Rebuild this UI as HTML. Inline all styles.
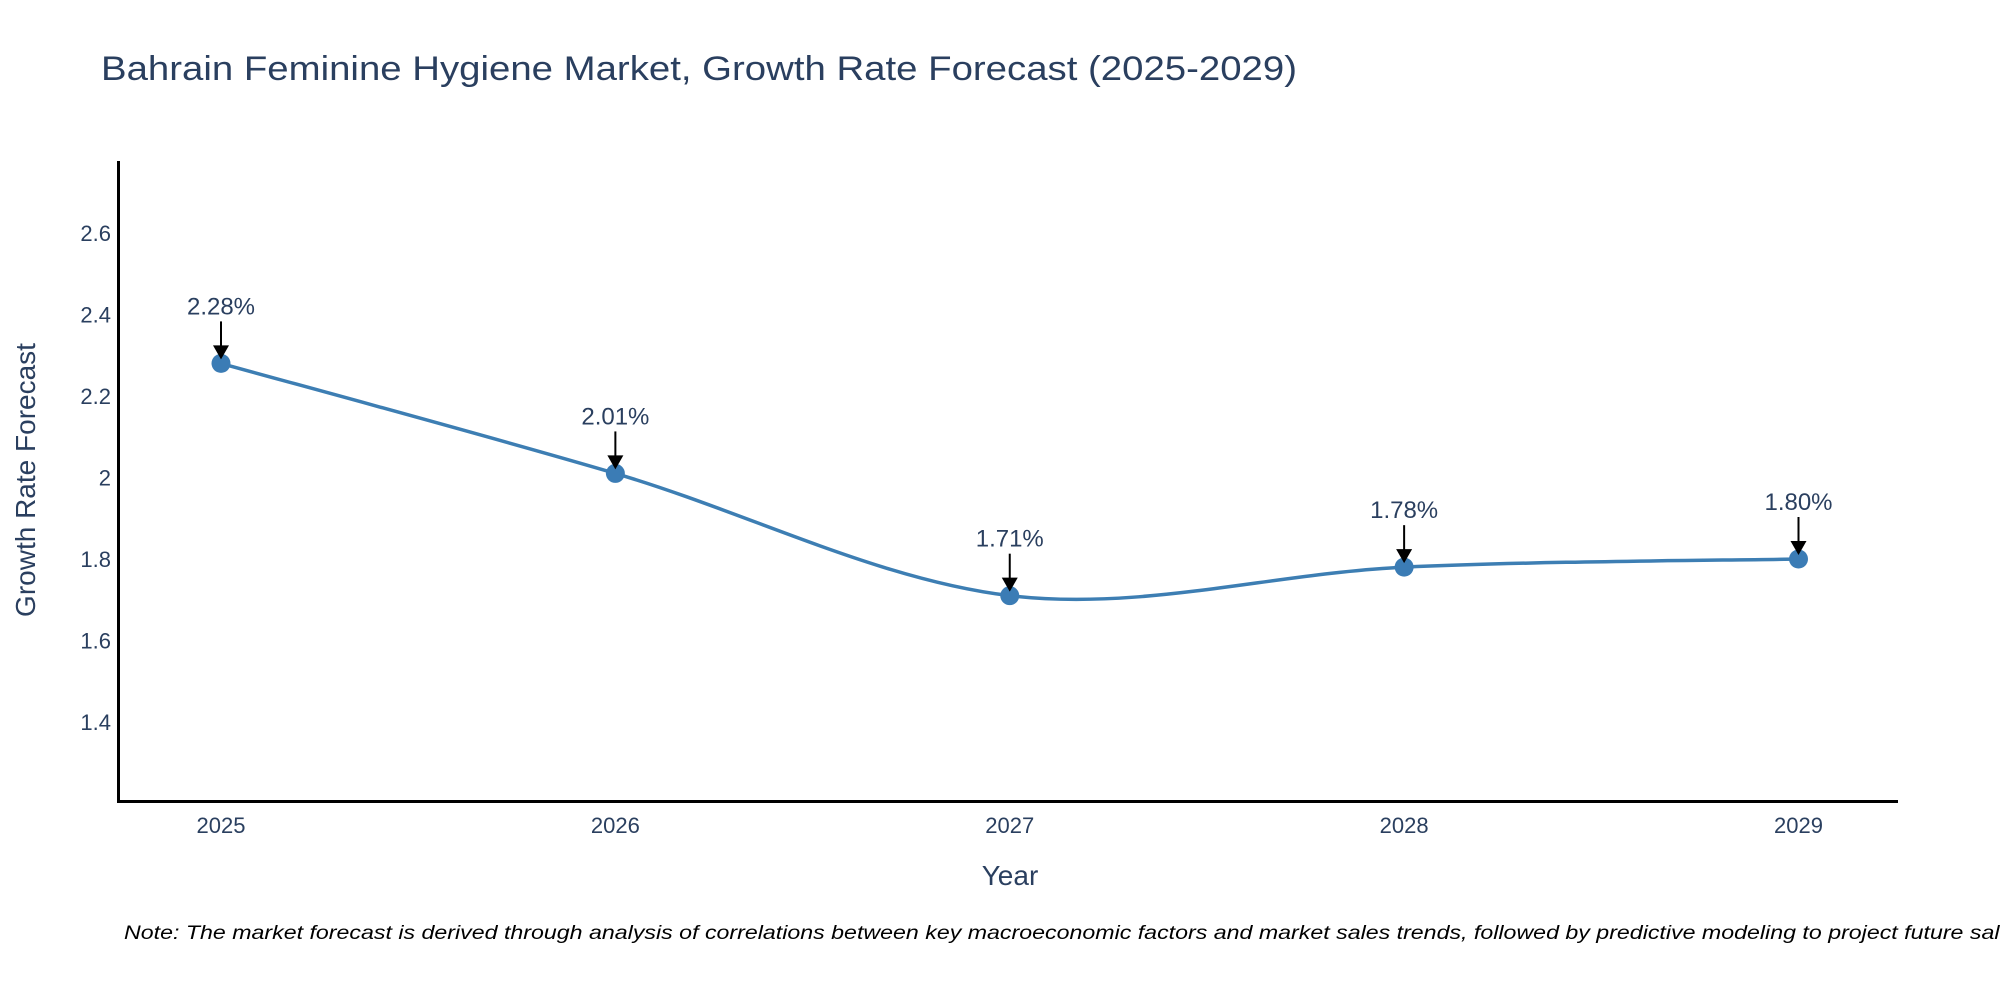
<!DOCTYPE html>
<html><head><meta charset="utf-8"><style>
html,body{margin:0;padding:0;background:#fff;}
svg text{font-family:"Liberation Sans",sans-serif;}
</style></head><body>
<svg id="chart" width="2000" height="1000" viewBox="0 0 2000 1000" xmlns="http://www.w3.org/2000/svg">
<text x="101" y="80" font-size="34" fill="#2a3f5f" textLength="1196" lengthAdjust="spacingAndGlyphs">Bahrain Feminine Hygiene Market, Growth Rate Forecast (2025-2029)</text>
<g id="yticks"></g>
<g id="xticks"></g>
<line x1="118.5" y1="161" x2="118.5" y2="802" stroke="#000" stroke-width="3"/>
<line x1="117" y1="801.5" x2="1898" y2="801.5" stroke="#000" stroke-width="3"/>
<text transform="translate(35,480) rotate(-90)" text-anchor="middle" font-size="28" fill="#2a3f5f">Growth Rate Forecast</text>
<text x="1010" y="885" text-anchor="middle" font-size="28" fill="#2a3f5f">Year</text>
<g id="series"></g>
<g id="annots"></g>
<text x="124" y="939" font-size="19" font-style="italic" fill="#000" textLength="1900" lengthAdjust="spacingAndGlyphs">Note: The market forecast is derived through analysis of correlations between key macroeconomic factors and market sales trends, followed by predictive modeling to project future sales</text>
</svg>
<script>
const years = [2025, 2026, 2027, 2028, 2029];
const values = [2.28, 2.01, 1.71, 1.78, 1.80];
const labels = ["2.28%", "2.01%", "1.71%", "1.78%", "1.80%"];
const yTicks = [1.4, 1.6, 1.8, 2, 2.2, 2.4, 2.6];

const NS = "http://www.w3.org/2000/svg";
function xs(v){ return 221 + (v - 2025) * (1798.5 - 221) / 4; }
function ys(v){ return 233 + (2.6 - v) / 0.2 * 81.5; }
function mk(tag, attrs, parent){ const e=document.createElementNS(NS,tag); for(const k in attrs) e.setAttribute(k,attrs[k]); parent.appendChild(e); return e; }

const yg=document.getElementById('yticks');
yTicks.forEach(t=>{
  const e=mk('text',{x:111,y:ys(t)+8,'text-anchor':'end','font-size':22,fill:'#2a3f5f'},yg);
  
  
  e.textContent=String(t);
});
const xg=document.getElementById('xticks');
years.forEach(y=>{
  const e=mk('text',{x:xs(y),y:833,'text-anchor':'middle','font-size':22,fill:'#2a3f5f'},xg);
  
  
  e.textContent=String(y);
});

const pts=years.map((y,i)=>[xs(y),ys(values[i])]);
let d='M'+pts[0][0]+','+pts[0][1];
const s=0.5;
for(let i=0;i<pts.length-1;i++){
  const p0=pts[Math.max(0,i-1)],p1=pts[i],p2=pts[i+1],p3=pts[Math.min(pts.length-1,i+2)];
  const c1=[p1[0]+(p2[0]-p0[0])*s/3*1, p1[1]+(p2[1]-p0[1])*s/3*1];
  const c2=[p2[0]-(p3[0]-p1[0])*s/3*1, p2[1]-(p3[1]-p1[1])*s/3*1];
  d+=' C'+c1[0]+','+c1[1]+' '+c2[0]+','+c2[1]+' '+p2[0]+','+p2[1];
}
const sg=document.getElementById('series');
const line=mk('path',{d:d,fill:'none',stroke:'#3d7eb3','stroke-width':3.5},sg);


pts.forEach(p=>{
  const c=mk('circle',{cx:p[0],cy:p[1],r:9.5,fill:'#3b7cb5'},sg);
  
  
});

const ag=document.getElementById('annots');
pts.forEach((p,i)=>{
  const l=mk('line',{x1:p[0],y1:p[1]-42,x2:p[0],y2:p[1]-16,stroke:'#000','stroke-width':2},ag);
  
  
  const h=mk('polygon',{points:(p[0]-8)+','+(p[1]-18)+' '+(p[0]+8)+','+(p[1]-18)+' '+p[0]+','+(p[1]-4),fill:'#000'},ag);
  
  
  const t=mk('text',{x:p[0],y:p[1]-49,'text-anchor':'middle','font-size':24,fill:'#2a3f5f'},ag);
  
  
  t.textContent=labels[i];
});
</script>
</body></html>
